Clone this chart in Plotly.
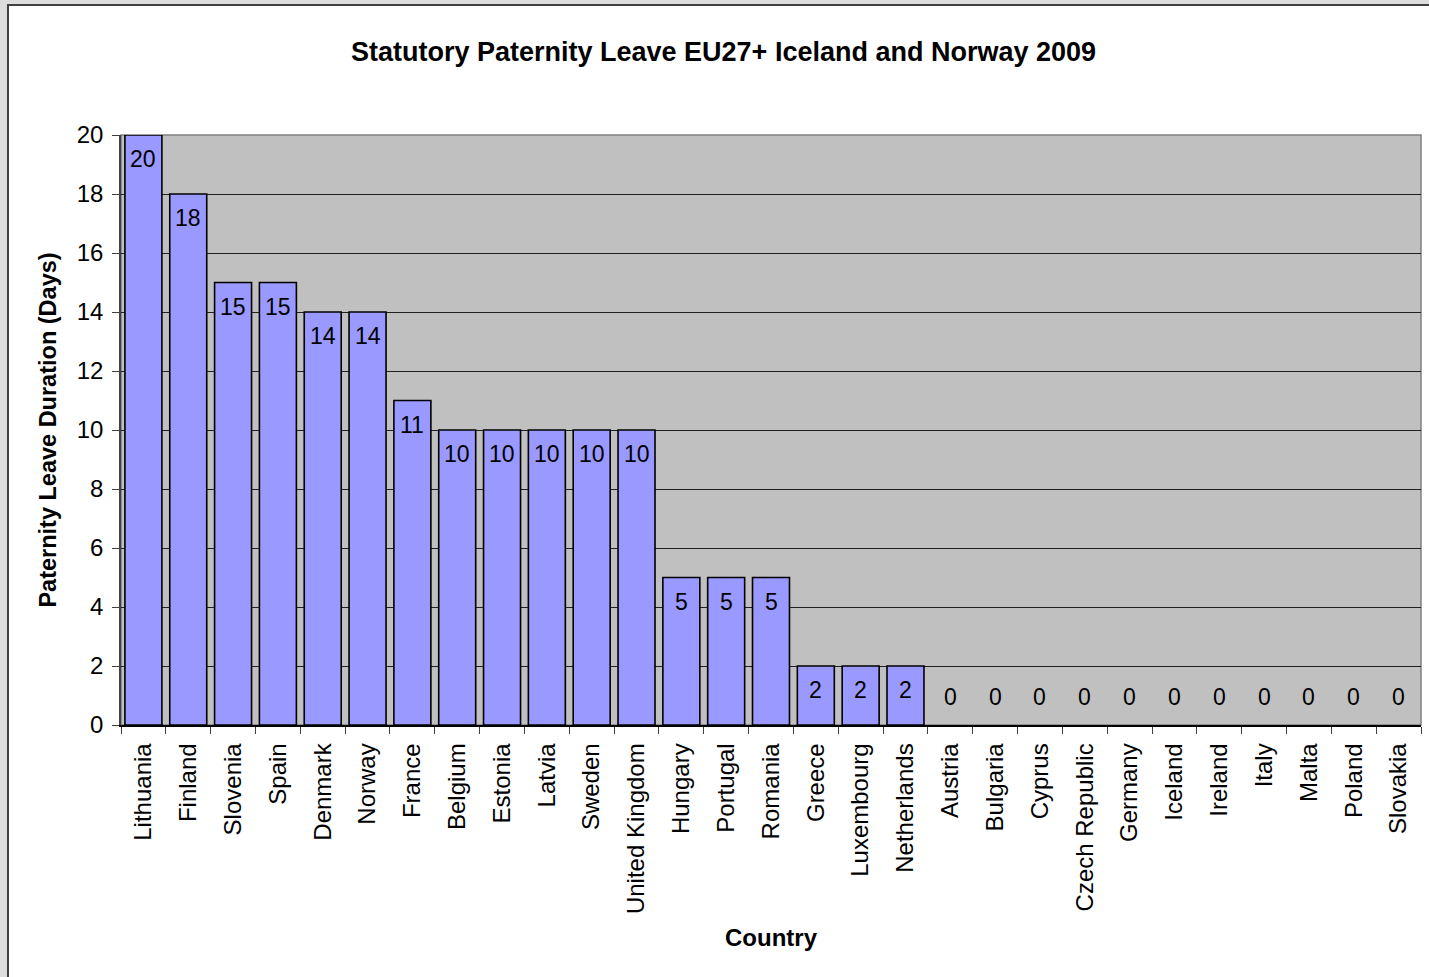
import plotly.graph_objects as go

countries = ["Lithuania", "Finland", "Slovenia", "Spain", "Denmark", "Norway", "France",
             "Belgium", "Estonia", "Latvia", "Sweden", "United Kingdom", "Hungary", "Portugal",
             "Romania", "Greece", "Luxembourg", "Netherlands", "Austria", "Bulgaria", "Cyprus",
             "Czech Republic", "Germany", "Iceland", "Ireland", "Italy", "Malta", "Poland", "Slovakia"]
days = [20, 18, 15, 15, 14, 14, 11, 10, 10, 10, 10, 10, 5, 5, 5, 2, 2, 2,
        0, 0, 0, 0, 0, 0, 0, 0, 0, 0, 0]
y_ticks = [0, 2, 4, 6, 8, 10, 12, 14, 16, 18, 20]

FONT = "Arial, Liberation Sans, sans-serif"

fig = go.Figure()
fig.add_trace(go.Bar(
    x=countries, y=days,
    marker=dict(color="#9999FF",
                line=dict(color="black", width=[1.6 if v > 0 else 0 for v in days])),
    hoverinfo="x+y",
))

annotations = []
for c, v in zip(countries, days):
    if v > 0:
        annotations.append(dict(x=c, y=v, xref="x", yref="y", text=str(v), showarrow=False,
                                yanchor="top", yshift=-9, font=dict(family=FONT, size=23, color="black")))
    else:
        annotations.append(dict(x=c, y=v, xref="x", yref="y", text=str(v), showarrow=False,
                                yanchor="bottom", yshift=13, font=dict(family=FONT, size=23, color="black")))

shapes = [
    # white chart area with dark border
    dict(type="rect", xref="paper", yref="paper", x0=-113/1300, x1=1.1, y0=-0.6, y1=1 + 130/590,
         fillcolor="white", line=dict(color="#404040", width=2), layer="below"),
    # gray plot area
    dict(type="rect", xref="paper", yref="paper", x0=0, x1=1, y0=0, y1=1,
         fillcolor="#C0C0C0", line=dict(color="#808080", width=1.5), layer="below"),
]

fig.update_layout(
    width=1429, height=977,
    margin=dict(l=121, r=8, t=135, b=252),
    paper_bgcolor="#DDDDDD",
    plot_bgcolor="#C0C0C0",
    bargap=0.175,
    showlegend=False,
    font=dict(family=FONT, color="black"),
    title=dict(text="<b>Statutory Paternity Leave EU27+ Iceland and Norway 2009</b>",
               x=(347 + 1100) / 2 / 1429, xanchor="center", y=1 - 52 / 977, yanchor="middle",
               font=dict(family=FONT, size=27, color="black")),
    annotations=annotations,
    shapes=shapes,
    xaxis=dict(
        range=[-0.5, len(countries) - 0.5],
        tickangle=-90, tickfont=dict(family=FONT, size=24, color="black"),
        ticks="outside", ticklen=7, tickcolor="#404040", tickson="boundaries",
        ticklabelstandoff=7,
        showline=True, linecolor="black", linewidth=1.5,
        showgrid=False, zeroline=False,
        title=dict(text="<b>Country</b>", font=dict(family=FONT, size=24, color="black"), standoff=16),
    ),
    yaxis=dict(
        range=[0, 20], tickvals=y_ticks,
        tickfont=dict(family=FONT, size=24, color="black"),
        ticks="outside", ticklen=7, tickcolor="#404040",
        ticklabelstandoff=4,
        showline=True, linecolor="#404040", linewidth=1.5,
        showgrid=True, gridcolor="#202020", gridwidth=1, zeroline=False,
        title=dict(text="<b>Paternity Leave Duration (Days)</b>", font=dict(family=FONT, size=23.5, color="black"),
                   standoff=14),
    ),
)

fig.write_html("out.html")
